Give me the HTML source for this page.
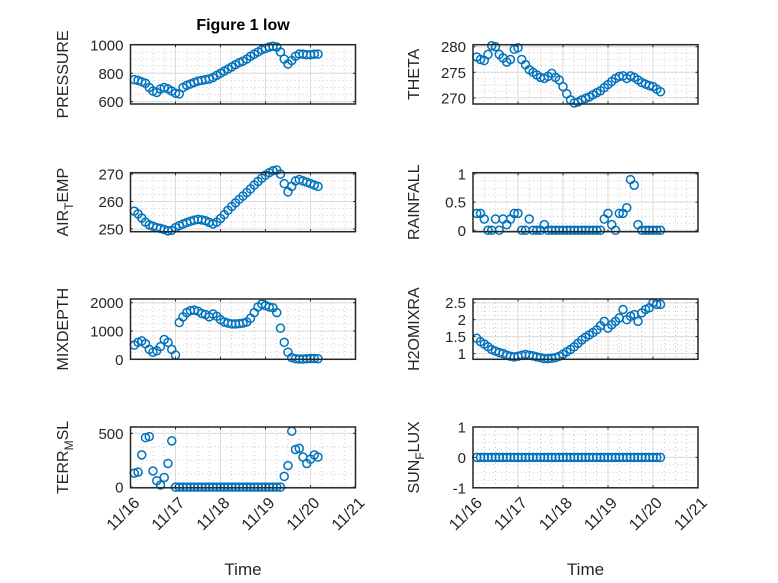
<!DOCTYPE html>
<html><head><meta charset="utf-8">
<style>
html,body{margin:0;padding:0;background:#fff;}
svg{display:block;font-family:"Liberation Sans","DejaVu Sans",sans-serif;}
</style></head>
<body>
<svg id="fig" width="778" height="583" viewBox="0 0 778 583">
<text x="243" y="30" text-anchor="middle" font-weight="bold" font-size="16" fill="#000">Figure 1 low</text>
</svg>
<script>
// time in hours after 11/16 00:00
const hours = [2,4,6,8,10,12,14,16,18,20,22,24,26,28,30,32,34,36,38,40,42,44,46,48,50,52,54,56,58,60,62,64,66,68,70,72,74,76,78,80,82,84,86,88,90,92,94,96,98,100];
const xTickLabels = ['11/16','11/17','11/18','11/19','11/20','11/21'];
const pressure = [755,750,740,730,700,675,665,690,700,690,675,660,655,700,715,725,735,745,750,755,760,770,785,800,815,830,845,860,875,885,900,920,935,950,965,975,985,990,985,950,900,865,890,920,935,935,930,930,935,935];
const theta = [278,277.5,277.3,278.5,280.2,280,278.5,277.8,277,277.5,279.5,279.8,277.5,276.5,275.5,275,274.5,274,273.8,274.2,274.8,274,273.5,272.2,270.8,269.6,269,269.2,269.6,269.9,270.2,270.6,271,271.4,272,272.6,273.2,273.8,274.2,274.3,273.8,274.3,274,273.5,273,272.7,272.4,272.2,271.7,271.2];
const airTemp = [256.5,255.5,254,252.5,251.5,251,250.5,250.2,249.8,249.3,249.5,250.5,251.2,251.8,252.3,252.8,253.2,253.5,253.3,253,252.4,251.8,252.5,253.8,255.2,256.8,258.2,259.5,260.8,262,263.3,264.6,266,267.3,268.5,269.6,270.5,271.2,271.5,270,266.5,263.5,265.5,267.5,268,267.5,267,266.5,266,265.5];
const rainfall = [0.3,0.3,0.2,0,0,0.2,0,0.2,0.1,0.2,0.3,0.3,0,0,0.2,0,0,0,0.1,0,0,0,0,0,0,0,0,0,0,0,0,0,0,0,0.2,0.3,0.1,0,0.3,0.3,0.4,0.9,0.8,0.1,0,0,0,0,0,0];
const mixDepth = [500,600,650,550,350,250,300,450,700,600,350,150,1300,1500,1650,1720,1740,1700,1620,1580,1500,1600,1520,1400,1320,1280,1250,1250,1260,1280,1320,1450,1650,1850,1950,1900,1850,1820,1650,1100,600,250,60,20,10,10,20,30,30,20];
const h2oMix = [1.45,1.35,1.28,1.2,1.12,1.07,1.03,1.0,0.95,0.92,0.9,0.92,0.95,0.97,0.95,0.93,0.9,0.88,0.85,0.85,0.86,0.88,0.92,0.98,1.05,1.12,1.2,1.3,1.4,1.48,1.55,1.62,1.7,1.82,1.95,1.75,1.85,1.95,2.05,2.3,2.0,2.1,2.15,1.95,2.2,2.3,2.35,2.5,2.45,2.45];
const terrMsl = [130,140,300,460,470,150,60,20,90,220,430,0,0,0,0,0,0,0,0,0,0,0,0,0,0,0,0,0,0,0,0,0,0,0,0,0,0,0,0,0,100,200,520,350,360,280,220,260,300,280];
const sunFlux = [0,0,0,0,0,0,0,0,0,0,0,0,0,0,0,0,0,0,0,0,0,0,0,0,0,0,0,0,0,0,0,0,0,0,0,0,0,0,0,0,0,0,0,0,0,0,0,0,0,0];

const NS='http://www.w3.org/2000/svg';
const svg=document.getElementById('fig');
function mk(tag,attrs,parent){const e=document.createElementNS(NS,tag);for(const k in attrs)e.setAttribute(k,attrs[k]);(parent||svg).appendChild(e);return e;}

const cols=[{x0:130.5,x1:355.5,lx:62},{x0:473,x1:698,lx:413}];
const rows=[[44.7,104],[172.7,231.7],[299,359.3],[427,487.8]];
const panels=[
 {name:'pressure',label:['PRESSURE'],data:pressure,ylim:[584,1001],ticks:[600,800,1000],c:0,r:0},
 {name:'theta',label:['THETA'],data:theta,ylim:[268.8,280.4],ticks:[270,275,280],c:1,r:0},
 {name:'air-temp',label:['AIR','T','EMP'],data:airTemp,ylim:[249,270.5],ticks:[250,260,270],c:0,r:1},
 {name:'rainfall',label:['RAINFALL'],data:rainfall,ylim:[-0.025,1.022],ticks:[0,0.5,1],c:1,r:1},
 {name:'mixdepth',label:['MIXDEPTH'],data:mixDepth,ylim:[0,2131],ticks:[0,1000,2000],c:0,r:2},
 {name:'h2omixra',label:['H2OMIXRA'],data:h2oMix,ylim:[0.83,2.61],ticks:[1,1.5,2,2.5],c:1,r:2},
 {name:'terr-msl',label:['TERR','M','SL'],data:terrMsl,ylim:[-6,559],ticks:[0,500],c:0,r:3},
 {name:'sun-flux',label:['SUN','F','LUX'],data:sunFlux,ylim:[-1,1],ticks:[-1,0,1],c:1,r:3}
];

panels.forEach(p=>{
  const {x0,x1,lx}=cols[p.c];const [y0,y1]=rows[p.r];
  const xs=h=>x0+(h/24)/5*(x1-x0);
  const ys=v=>y1-(v-p.ylim[0])/(p.ylim[1]-p.ylim[0])*(y1-y0);
  const g=mk('g',{});
  
  
  for(let d=0;d<5;d++)for(let k=1;k<4;k++){const x=xs((d+k/4)*24);
    mk('line',{x1:x,x2:x,y1:y0,y2:y1,stroke:'#c8c8c8','stroke-width':1,'stroke-dasharray':'1 3'},g);}
  const tstep=p.ticks[1]-p.ticks[0];
  for(let v=p.ticks[0]-tstep;v<=p.ticks[p.ticks.length-1]+tstep;v+=tstep/4){
    const y=ys(v);if(y<y0+0.5||y>y1-0.5)continue;
    mk('line',{x1:x0,x2:x1,y1:y,y2:y,stroke:'#c8c8c8','stroke-width':1,'stroke-dasharray':'1 3'},g);}
  for(let d=1;d<5;d++){const x=xs(d*24);mk('line',{x1:x,x2:x,y1:y0,y2:y1,stroke:'#dcdcdc','stroke-width':1},g);}
  p.ticks.forEach(v=>{const y=ys(v);mk('line',{x1:x0,x2:x1,y1:y,y2:y,stroke:'#dcdcdc','stroke-width':1},g);});
  const sg=mk('g',{},g);
  
  
  p.data.forEach((v,i)=>{
    const c=mk('circle',{cx:xs(hours[i]),cy:ys(v),r:4,fill:'none',stroke:'#0072BD','stroke-width':1.5},sg);
    
    
  });
  mk('rect',{x:x0,y:y0,width:x1-x0,height:y1-y0,fill:'none',stroke:'#262626','stroke-width':1.5},g);
  for(let d=0;d<=5;d++){const x=xs(d*24);
    mk('line',{x1:x,x2:x,y1:y1,y2:y1-2.5,stroke:'#262626','stroke-width':1},g);
    mk('line',{x1:x,x2:x,y1:y0,y2:y0+2.5,stroke:'#262626','stroke-width':1},g);}
  p.ticks.forEach(v=>{const y=ys(v);
    mk('line',{x1:x0,x2:x0+2.5,y1:y,y2:y,stroke:'#262626','stroke-width':1},g);
    mk('line',{x1:x1,x2:x1-2.5,y1:y,y2:y,stroke:'#262626','stroke-width':1},g);
    const t=mk('text',{x:x0-7,y:y+5.5,'text-anchor':'end','font-size':15,fill:'#262626'},g);
    t.textContent=String(v);
    
    
  });
  const cy=(y0+y1)/2;
  const lt=mk('text',{x:0,y:0,'text-anchor':'middle','font-size':16,fill:'#262626',transform:`translate(${lx+6},${cy}) rotate(-90)`},g);
  
  
  if(p.label.length===1){lt.textContent=p.label[0];}
  else{
    const a=mk('tspan',{},lt);a.textContent=p.label[0];
    const b=mk('tspan',{dy:5,'font-size':12},lt);b.textContent=p.label[1];
    const c=mk('tspan',{dy:-5},lt);c.textContent=p.label[2];
  }
  if(p.r===3){
    xTickLabels.forEach((s,d)=>{const x=xs(d*24);
      const t=mk('text',{x:0,y:0,'text-anchor':'end','font-size':16,fill:'#262626',transform:`translate(${x+10},${y1+16}) rotate(-45)`},g);
      t.textContent=s;
      
      
    });
    const tl=mk('text',{x:(x0+x1)/2,y:575,'text-anchor':'middle','font-size':17,fill:'#262626'},g);
    tl.textContent='Time';
    
    
  }
});
</script>
</body></html>
